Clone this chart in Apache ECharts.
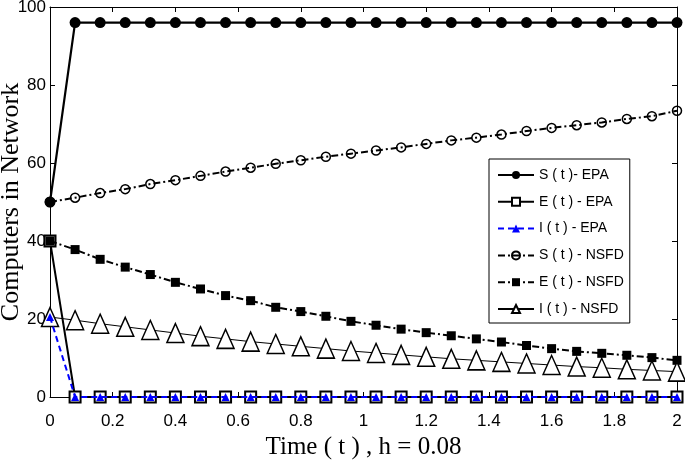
<!DOCTYPE html>
<html>
<head>
<meta charset="utf-8">
<script src="https://cdn.jsdelivr.net/npm/echarts@6/dist/echarts.min.js"></script>
<style>
html,body{margin:0;padding:0;background:#fff;}
#chart{width:685px;height:461px;}
</style>
</head>
<body>
<div id="chart"></div>
<script>
var timePoints = [0,0.08,0.16,0.24,0.32,0.40,0.48,0.56,0.64,0.72,0.80,0.88,0.96,1.04,1.12,1.20,1.28,1.36,1.44,1.52,1.60,1.68,1.76,1.84,1.92,2.00];
var sEPA  = [50,96,96,96,96,96,96,96,96,96,96,96,96,96,96,96,96,96,96,96,96,96,96,96,96,96];
var eEPA  = [40,0,0,0,0,0,0,0,0,0,0,0,0,0,0,0,0,0,0,0,0,0,0,0,0,0];
var iEPA  = [20.5,0,0,0,0,0,0,0,0,0,0,0,0,0,0,0,0,0,0,0,0,0,0,0,0,0];
var sNSFD = [50,51.1,52.3,53.3,54.6,55.6,56.7,57.8,58.8,59.8,60.7,61.6,62.4,63.2,64.0,64.9,65.8,66.5,67.3,68.2,69.0,69.7,70.4,71.3,72.0,73.4];
var eNSFD = [40,37.8,35.3,33.3,31.4,29.4,27.7,26.0,24.7,23.0,21.9,20.7,19.4,18.4,17.4,16.5,15.7,14.9,14.1,13.2,12.4,11.7,11.2,10.7,10.1,9.4];
var iNSFD = [20.5,19.7,18.8,18.0,17.2,16.4,15.6,14.9,14.2,13.6,13.0,12.4,11.8,11.3,10.8,10.3,9.8,9.4,9.0,8.6,8.2,7.8,7.5,7.1,6.8,6.5];
var seriesNames = ['S ( t )- EPA','E ( t ) - EPA','I ( t ) - EPA','S ( t ) - NSFD','E ( t ) - NSFD','I ( t ) - NSFD'];
var xTicks = {min:0, max:2, interval:0.2};
var yTicks = {min:0, max:100, interval:20};

function pairs(vals){ return timePoints.map(function(t,i){ return [t, vals[i]]; }); }

var tickFont = '"Liberation Sans",Arial,sans-serif';
var serifFont = '"Liberation Serif","Times New Roman",serif';
var dashDot = [7,3,2,3];

var chart = echarts.init(document.getElementById('chart'), null, {renderer:'canvas'});
chart.setOption({
  animation:false,
  backgroundColor:'#fff',
  grid:{left:50, right:8, top:7, bottom:64, show:false, containLabel:false, outerBoundsMode:'none'},
  legend:{
    orient:'vertical', left:489, top:159,
    backgroundColor:'#fff', borderColor:'#000', borderWidth:1, borderRadius:0,
    padding:[9,6,7,8], itemWidth:36, itemHeight:10, itemGap:12.8,
    textStyle:{fontFamily:tickFont, fontSize:14, color:'#000'},
    data:seriesNames
  },
  xAxis:[{
    type:'value', position:'bottom', min:xTicks.min, max:xTicks.max, interval:xTicks.interval,
    name:'Time ( t ) , h = 0.08', nameLocation:'middle', nameGap:38, nameMoveOverlap:false,
    nameTextStyle:{fontFamily:serifFont, fontSize:25, color:'#000'},
    axisLine:{show:true, onZero:false, lineStyle:{color:'#000', width:1}},
    axisTick:{show:true, inside:true, length:5, lineStyle:{color:'#000'}},
    axisLabel:{fontFamily:tickFont, fontSize:17, color:'#000', margin:16},
    splitLine:{show:false}
  },{
    type:'value', position:'top', min:xTicks.min, max:xTicks.max, interval:xTicks.interval,
    axisLine:{show:true, onZero:false, lineStyle:{color:'#000', width:1}},
    axisTick:{show:true, inside:true, length:5, lineStyle:{color:'#000'}},
    axisLabel:{show:false}, splitLine:{show:false}
  }],
  yAxis:[{
    type:'value', position:'left', min:yTicks.min, max:yTicks.max, interval:yTicks.interval,
    name:'Computers in Network', nameLocation:'middle', nameGap:26, nameMoveOverlap:false,
    nameTextStyle:{fontFamily:serifFont, fontSize:26, color:'#000'},
    axisLine:{show:true, onZero:false, lineStyle:{color:'#000', width:1}},
    axisTick:{show:true, inside:true, length:5, lineStyle:{color:'#000'}},
    axisLabel:{fontFamily:tickFont, fontSize:17, color:'#000', margin:4},
    splitLine:{show:false}
  },{
    type:'value', position:'right', min:yTicks.min, max:yTicks.max, interval:yTicks.interval,
    axisLine:{show:true, onZero:false, lineStyle:{color:'#000', width:1}},
    axisTick:{show:true, inside:true, length:5, lineStyle:{color:'#000'}},
    axisLabel:{show:false}, splitLine:{show:false}
  }],
  series:[
    {name:seriesNames[1], type:'line', data:pairs(eEPA), clip:false, z:2,
     symbol:'rect', symbolSize:11, color:'#000',
     lineStyle:{color:'#000', width:2, type:'solid'},
     itemStyle:{color:'#fff', borderColor:'#000', borderWidth:2}},
    {name:seriesNames[4], type:'line', data:pairs(eNSFD), clip:false, z:3,
     symbol:'rect', symbolSize:9, color:'#000',
     lineStyle:{color:'#000', width:2, type:dashDot},
     itemStyle:{color:'#000', borderColor:'#000', borderWidth:0}},
    {name:seriesNames[5], type:'line', data:pairs(iNSFD), clip:false, z:3,
     symbol:'triangle', symbolSize:[17,19], color:'#000',
     lineStyle:{color:'#000', width:1, type:'solid'},
     itemStyle:{color:'#fff', borderColor:'#000', borderWidth:1.5}},
    {name:seriesNames[3], type:'line', data:pairs(sNSFD), clip:false, z:3,
     symbol:'circle', symbolSize:9, color:'#000',
     lineStyle:{color:'#000', width:2, type:dashDot},
     itemStyle:{color:'rgba(255,255,255,0)', borderColor:'#000', borderWidth:1.5}},
    {name:seriesNames[0], type:'line', data:pairs(sEPA), clip:false, z:4,
     symbol:'circle', symbolSize:11, color:'#000',
     lineStyle:{color:'#000', width:2.2, type:'solid'},
     itemStyle:{color:'#000', borderColor:'#000', borderWidth:0}},
    {name:seriesNames[2], type:'line', data:pairs(iEPA), clip:false, z:5,
     symbol:'triangle', symbolSize:8, color:'#0000ff',
     lineStyle:{color:'#0000ff', width:2, type:[6,4]},
     itemStyle:{color:'#0000ff', borderColor:'#0000ff', borderWidth:0}}
  ]
});
</script>
</body>
</html>
